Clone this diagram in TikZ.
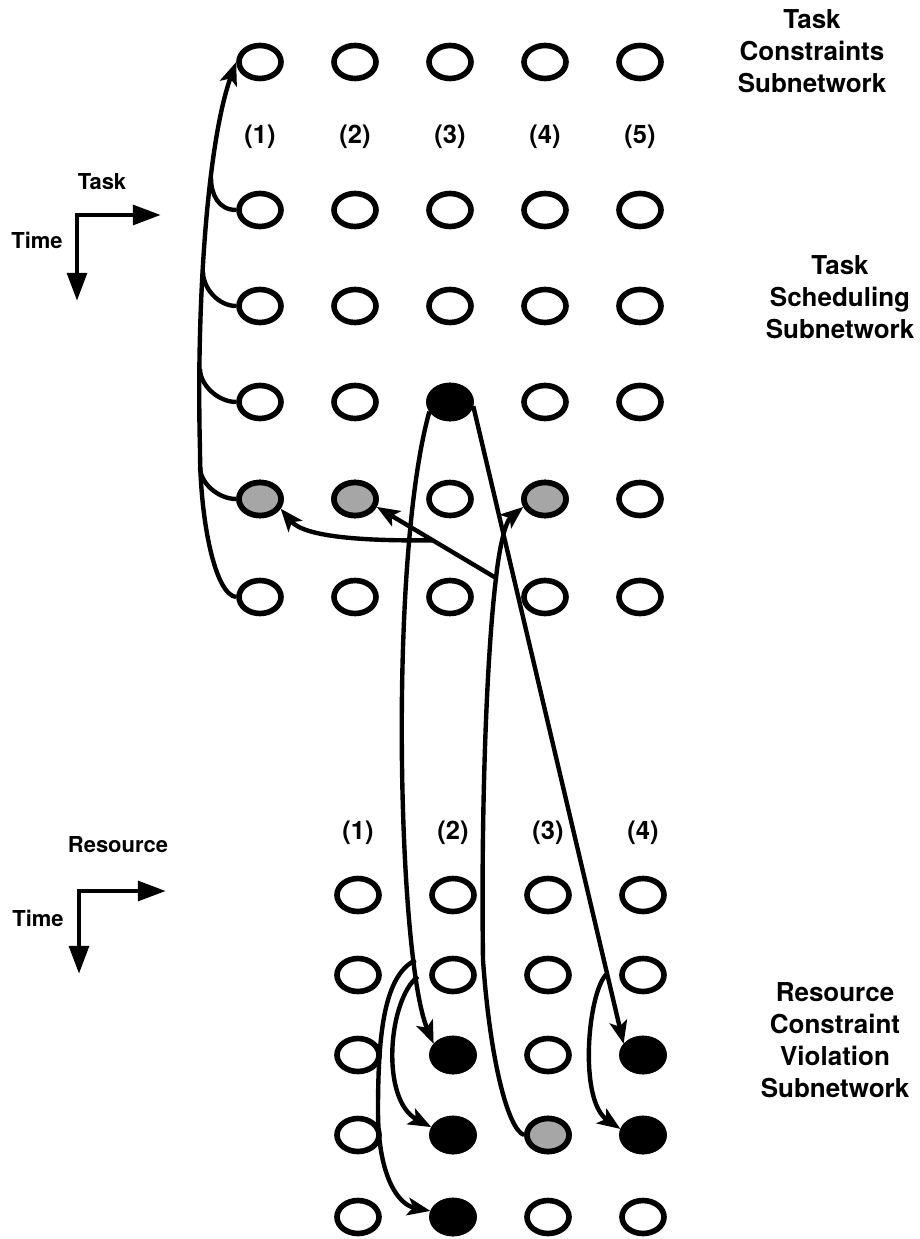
\documentclass[tikz,border=0pt]{standalone}
\usepackage{fontspec}
\setmainfont{TeX Gyre Heros}
\usetikzlibrary{arrows.meta,shapes.geometric}

\begin{document}
\begin{tikzpicture}[x=0.02cm, y=-0.02cm,
    cell/.style={ellipse, draw, line width=3.2pt, minimum width=0.84cm, minimum height=0.66cm, inner sep=0pt},
    busy/.style={fill=black},
    hatched/.style={fill=black!35},
    wire/.style={line width=2.5pt},
    link/.style={wire, -{Stealth[length=13pt,width=10pt,inset=3pt]}},
    axis/.style={line width=2.8pt, {Triangle[length=16pt,width=11pt]}-{Triangle[length=16pt,width=11pt]}},
    num/.style={font=\bfseries\fontsize{14.5}{16}\selectfont},
    side/.style={font=\bfseries\fontsize{14.8}{18.2}\selectfont, align=center},
    dir/.style={font=\bfseries\fontsize{12.5}{14}\selectfont}]
    \useasboundingbox (0,0) rectangle (919,1239);

    % Task grid: rows are time, columns are tasks
    \foreach \r/\y in {1/62,2/210,3/306,4/402,5/499,6/597}
      \foreach \c/\x in {1/260,2/355,3/450,4/545,5/640}
        \node[cell] (t\r\c) at (\x,\y) {};
    \node[cell,busy] (t43) at (t43) {};
    \node[cell,hatched] (t51) at (t51) {};
    \node[cell,hatched] (t52) at (t52) {};
    \node[cell,hatched] (t54) at (t54) {};
    \foreach \c/\x in {1/260,2/355,3/450,4/545,5/640}
      \node[num] (tn\c) at (\x,137) {(\c)};

    % Resource grid: rows are time, columns are resources
    \foreach \r/\y in {1/895,2/975,3/1055,4/1135,5/1217}
      \foreach \c/\x in {1/358,2/453,3/548,4/643}
        \node[cell] (r\r\c) at (\x,\y) {};
    \node[cell,busy] (r32) at (r32) {};
    \node[cell,busy] (r42) at (r42) {};
    \node[cell,busy] (r52) at (r52) {};
    \node[cell,busy] (r34) at (r34) {};
    \node[cell,busy] (r44) at (r44) {};
    \node[cell,hatched] (r43) at (r43) {};
    \foreach \c/\x in {1/358,2/453,3/548,4/643}
      \node[num] (rn\c) at (\x,833) {(\c)};

    % Subnetwork names
    \node[side] (tcs) at (812,51) {Task\\Constraints\\Subnetwork};
    \node[side] (tss) at (840,297) {Task\\Scheduling\\Subnetwork};
    \node[side] (rcv) at (835,1040) {Resource\\Constraint\\Violation\\Subnetwork};

    % Axes
    \coordinate (taxo) at (77,215);
    \coordinate (taxr) at (161,215);
    \coordinate (taxd) at (77,301);
    \draw[axis] (taxd) -- (taxo) -- (taxr);
    \node[dir] (tasklbl) at (102,182) {Task};
    \node[dir] (ttimelbl) at (37,240) {Time};
    \coordinate (raxo) at (79,891);
    \coordinate (raxr) at (166,891);
    \coordinate (raxd) at (79,974);
    \draw[axis] (raxd) -- (raxo) -- (raxr);
    \node[dir] (reslbl) at (118,845) {Resource};
    \node[dir] (rtimelbl) at (38,918) {Time};

    % Task (1) column feeds the constraint node
    \draw[link] (t61.west) .. controls (215,595) and (200,520) .. (200,450)
        .. controls (196,300) and (208,140) .. (t11.west);
    \coordinate (j2) at (211,178);
    \coordinate (j3) at (203,272);
    \coordinate (j4) at (200,369);
    \coordinate (j5) at (200,467);
    \foreach \r in {2,...,5}
      \draw[wire] (t\r1.west) .. controls +(-18,0) and +(0,16) .. (j\r);

    % Task (3) at time 4 into the resource grid
    \draw[link] (t43.205) .. controls (388,560) and (398,960) ..
        coordinate[pos=0.8] (b1) coordinate[pos=0.83] (b2) (r32.150);
    \draw[link] (b1) .. controls (385,975) and (378,1030) .. (378,1110)
        .. controls (378,1180) and (400,1205) .. (r52.165);
    \draw[link] (b2) .. controls (388,1000) and (380,1100) .. (r42.160);
    \draw[link] (t43.-10) -- coordinate[pos=0.89] (b3) (r34.150);
    \draw[link] (b3) .. controls (588,990) and (578,1100) .. (r44.165);

    % Violation back into the task grid
    \coordinate (b4) at (496,578);
    \draw[link] (r43.west) .. controls (508,1130) and (490,1060) .. (483,960)
        .. controls (481,820) and (486,660) .. (b4)
        .. controls (499,550) and (505,522) .. (t54.200);
    \draw[link] (b4) -- coordinate[pos=0.53] (b5) (t52.-20);
    \draw[link] (b5) .. controls (370,541) and (305,538) .. (t51.-25);
\end{tikzpicture}
\end{document}
